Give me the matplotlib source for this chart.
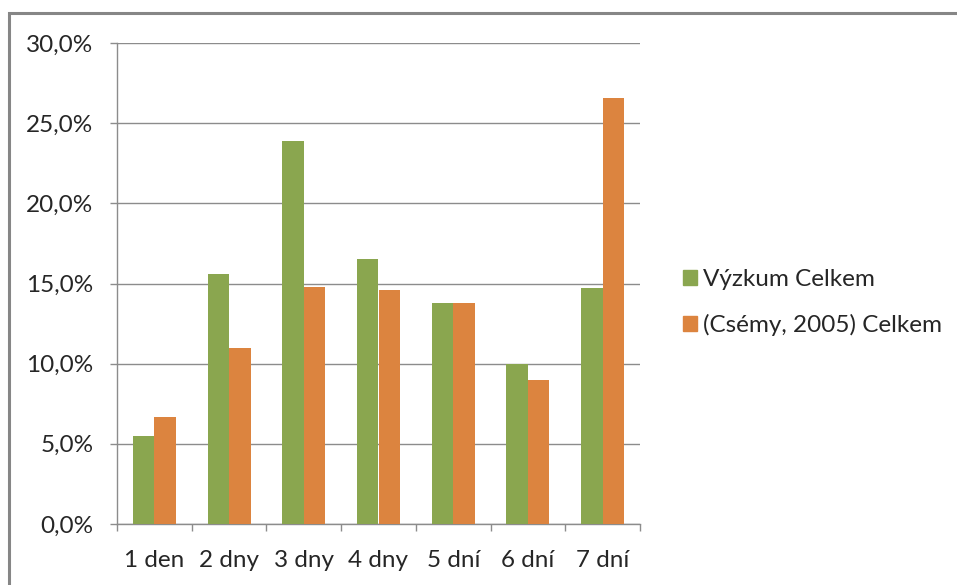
import numpy as np
import matplotlib
matplotlib.use("Agg")
from matplotlib import pyplot as plt
from matplotlib.patches import Rectangle, Patch
from matplotlib.ticker import FuncFormatter, FixedLocator

categories = ["1 den", "2 dny", "3 dny", "4 dny", "5 dní", "6 dní", "7 dní"]
vyzkum = [5.5, 15.6, 23.9, 16.5, 13.8, 10.0, 14.7]
csemy = [6.7, 11.0, 14.8, 14.6, 13.8, 9.0, 26.6]
series_names = ["Výzkum Celkem", "(Csémy, 2005) Celkem"]

GREEN = "#8aa64f"
ORANGE = "#dc843f"
GRID = "#8c8c8c"
TEXT = "#262626"
FS = 17.5

plt.rcParams["font.family"] = ["Lato", "DejaVu Sans"]

W, H = 957, 585
fig = plt.figure(figsize=(W / 100, H / 100), dpi=100)

# outer chart frame (only top and left edges fall inside the image)
fig.patches.append(Rectangle((9 / W, -0.1), 1.2, 1.1 - 13 / H, transform=fig.transFigure,
                             fill=False, edgecolor="#868686", linewidth=2.2))

ax = fig.add_axes([117 / W, 61 / H, (640 - 117) / W, (524 - 43) / H])

x = np.arange(len(categories))
bw = 0.288
ax.bar(x - bw / 2, vyzkum, bw, color=GREEN, zorder=3)
ax.bar(x + bw / 2, csemy, bw, color=ORANGE, zorder=3)

ax.set_xlim(-0.5, len(categories) - 0.5)
ax.set_ylim(0, 30)
ax.set_yticks(np.arange(0, 31, 5))
ax.yaxis.set_major_formatter(FuncFormatter(lambda v, p: f"{v:.1f}%".replace(".", ",")))
ax.yaxis.grid(True, color=GRID, linewidth=1.0, zorder=0)

ax.set_xticks(x)
ax.set_xticklabels(categories)
ax.xaxis.set_minor_locator(FixedLocator(np.arange(-0.5, len(categories), 1.0)))
ax.tick_params(axis="x", which="major", length=0, pad=18.5, labelsize=FS, labelcolor=TEXT)
ax.tick_params(axis="x", which="minor", length=5, width=1, color=GRID, direction="out")
ax.tick_params(axis="y", length=5, width=1, color=GRID, pad=12, labelsize=FS, labelcolor=TEXT)

for side in ("top", "right"):
    ax.spines[side].set_visible(False)
for side in ("left", "bottom"):
    ax.spines[side].set_color(GRID)
    ax.spines[side].set_linewidth(1.0)

handles = [Patch(color=GREEN), Patch(color=ORANGE)]
fig.legend(handles, series_names, loc="center left", bbox_to_anchor=(683 / W, 1 - 302.5 / H),
           frameon=False, fontsize=FS, labelcolor=TEXT, handlelength=0.58, handleheight=0.58,
           handletextpad=0.25, labelspacing=1.0, borderpad=0, borderaxespad=0)

fig.savefig("out.png", dpi=100)
